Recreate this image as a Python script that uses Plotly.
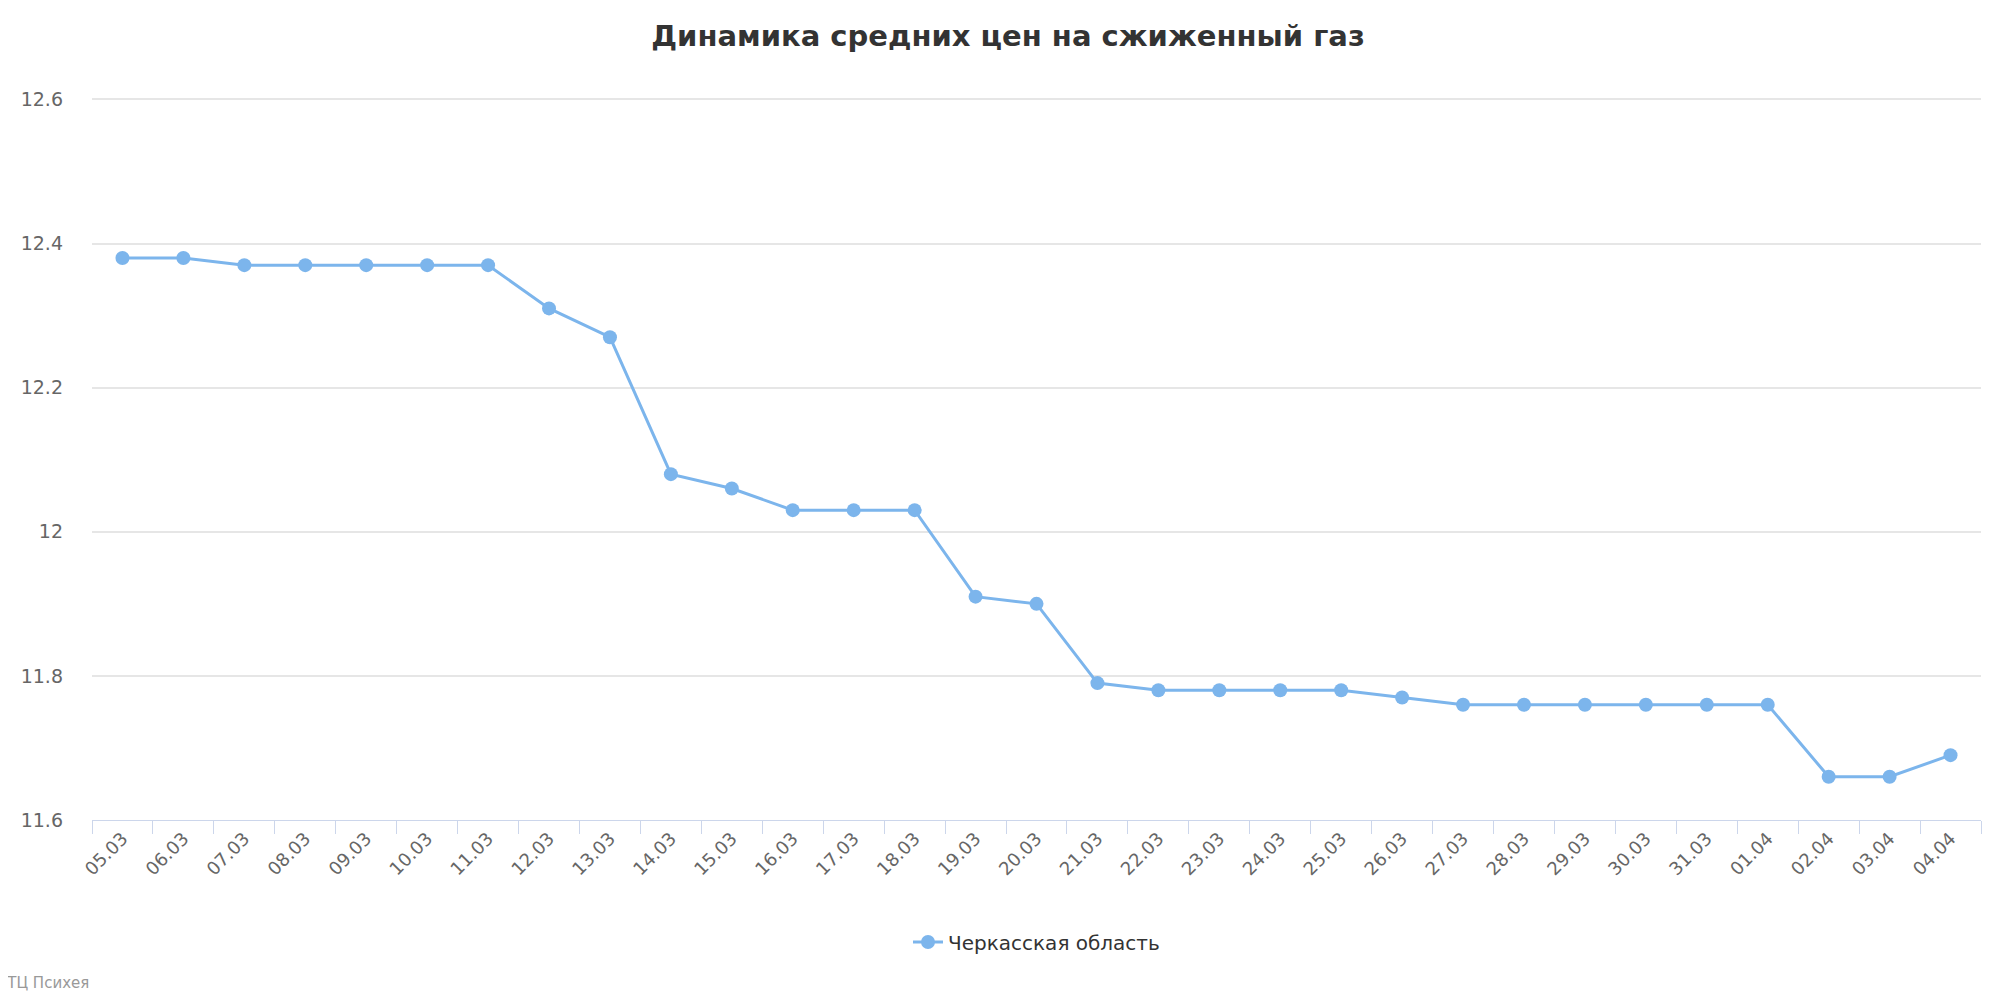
import plotly.graph_objects as go

dates = ["05.03","06.03","07.03","08.03","09.03","10.03","11.03","12.03","13.03","14.03","15.03","16.03","17.03","18.03","19.03","20.03","21.03","22.03","23.03","24.03","25.03","26.03","27.03","28.03","29.03","30.03","31.03","01.04","02.04","03.04","04.04"]
prices = [12.38,12.38,12.37,12.37,12.37,12.37,12.37,12.31,12.27,12.08,12.06,12.03,12.03,12.03,11.91,11.90,11.79,11.78,11.78,11.78,11.78,11.77,11.76,11.76,11.76,11.76,11.76,11.76,11.66,11.66,11.69]
series_name = "Черкасская область"
yticks = [11.6, 11.8, 12.0, 12.2, 12.4, 12.6]
ytext = ["11.6", "11.8", "12", "12.2", "12.4", "12.6"]

fig = go.Figure(go.Scatter(
    x=dates, y=prices, name=series_name, mode="lines+markers",
    line=dict(color="#7cb5ec", width=3), marker=dict(size=14, color="#7cb5ec")))

fig.update_layout(
    width=2000, height=1000, paper_bgcolor="white", plot_bgcolor="white",
    font=dict(family="DejaVu Sans", color="#666666"),
    title=dict(text="<b>Динамика средних цен на сжиженный газ</b>", x=0.5, xanchor="center", y=0.982,
               font=dict(size=29, color="#333333")),
    margin=dict(l=84, r=27, t=90, b=188),
    showlegend=True,
    legend=dict(orientation="h", x=0.5, xanchor="center", y=-0.169, yanchor="middle",
                font=dict(size=20, color="#333333")),
    xaxis=dict(type="category", tickson="boundaries", ticks="outside", ticklen=13, tickcolor="#ccd6eb",
               showline=True, linecolor="#ccd6eb", linewidth=1, showgrid=False,
               tickangle=-45, tickfont=dict(size=18, color="#666666"), range=[-0.5, 30.5]),
    yaxis=dict(tickvals=yticks, ticktext=ytext, range=[11.6, 12.602], gridcolor="#e6e6e6", gridwidth=1.5,
               zeroline=False, tickfont=dict(size=19, color="#666666"), ticklabelstandoff=28),
    annotations=[dict(text="НТЦ Психея", xref="paper", yref="paper", x=-0.052, y=-0.21,
                      xanchor="left", yanchor="top", showarrow=False,
                      font=dict(size=15, color="#999999"))]
)
fig.write_html("out.html")
